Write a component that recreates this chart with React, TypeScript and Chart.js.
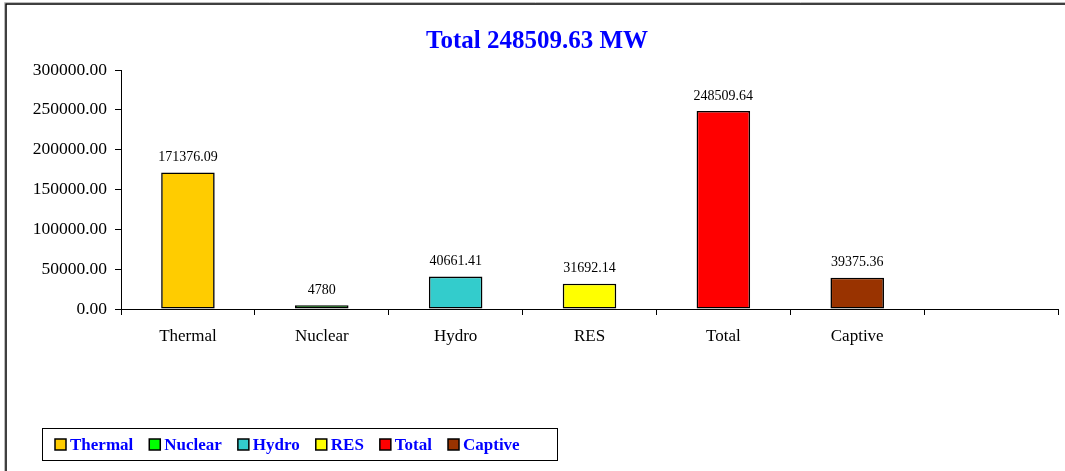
import React, { useEffect, useRef } from 'react';
import { Chart, registerables } from 'chart.js';

Chart.register(...registerables);

const categories = ['Thermal', 'Nuclear', 'Hydro', 'RES', 'Total', 'Captive', ''];
const values: (number | null)[] = [171376.09, 4780, 40661.41, 31692.14, 248509.64, 39375.36, null];
const valueLabels = ['171376.09', '4780', '40661.41', '31692.14', '248509.64', '39375.36', ''];
const barColors = ['#FFCC00', '#00FF00', '#33CCCC', '#FFFF00', '#FF0000', '#993300', '#FFFFFF'];
const legendLabels = ['Thermal', 'Nuclear', 'Hydro', 'RES', 'Total', 'Captive'];
const titleText = 'Total 248509.63 MW';
const yMin = 0;
const yMax = 300000;
const yStep = 50000;

const SERIF = "'Liberation Serif', 'Times New Roman', serif";

const framePlugin = {
  id: 'frame',
  beforeDraw(chart: any) {
    const ctx = chart.ctx;
    ctx.save();
    ctx.fillStyle = '#FFFFFF';
    ctx.fillRect(0, 0, chart.width, chart.height);
    ctx.strokeStyle = '#BBBBBB';
    ctx.lineWidth = 1;
    ctx.beginPath();
    ctx.moveTo(4.5, chart.height + 5);
    ctx.lineTo(4.5, 2.5);
    ctx.lineTo(chart.width + 5, 2.5);
    ctx.stroke();
    ctx.strokeStyle = '#000000';
    ctx.lineWidth = 1.5;
    ctx.beginPath();
    ctx.moveTo(6, chart.height + 5);
    ctx.lineTo(6, 4);
    ctx.lineTo(chart.width + 5, 4);
    ctx.stroke();
    ctx.restore();
  },
};

const titlePlugin = {
  id: 'customTitle',
  afterDraw(chart: any) {
    const ctx = chart.ctx;
    ctx.save();
    ctx.font = `bold 25px ${SERIF}`;
    ctx.fillStyle = '#0000FF';
    ctx.textAlign = 'center';
    ctx.textBaseline = 'middle';
    ctx.fillText(titleText, 537, 42);
    ctx.restore();
  },
};

const dataLabelPlugin = {
  id: 'dataLabels',
  afterDatasetsDraw(chart: any) {
    const ctx = chart.ctx;
    const meta = chart.getDatasetMeta(0);
    ctx.save();
    ctx.font = `14px ${SERIF}`;
    ctx.fillStyle = '#000000';
    ctx.textAlign = 'center';
    ctx.textBaseline = 'middle';
    meta.data.forEach((bar: any, i: number) => {
      if (values[i] == null) return;
      ctx.fillText(valueLabels[i], bar.x, bar.y - 15);
    });
    ctx.restore();
  },
};

const legendPlugin = {
  id: 'customLegend',
  afterDraw(chart: any) {
    const ctx = chart.ctx;
    ctx.save();
    ctx.strokeStyle = '#000000';
    ctx.lineWidth = 1;
    ctx.strokeRect(42.5, 428.5, 515, 32);
    ctx.font = `bold 17px ${SERIF}`;
    ctx.textBaseline = 'middle';
    let x = 55;
    const cy = 445;
    legendLabels.forEach((label, i) => {
      ctx.fillStyle = barColors[i];
      ctx.fillRect(x, cy - 6, 11, 11);
      ctx.strokeStyle = '#000000';
      ctx.lineWidth = 1.5;
      ctx.strokeRect(x, cy - 6, 11, 11);
      ctx.fillStyle = '#0000FF';
      ctx.fillText(label, x + 15, cy + 1);
      x += 15 + ctx.measureText(label).width + 16;
    });
    ctx.restore();
  },
};

export default function App() {
  const canvasRef = useRef<HTMLCanvasElement | null>(null);

  useEffect(() => {
    if (!canvasRef.current) return;
    const chart = new Chart(canvasRef.current, {
      type: 'bar',
      data: {
        labels: categories,
        datasets: [
          {
            data: values as any,
            backgroundColor: barColors,
            borderColor: '#000000',
            borderWidth: 1.6,
            borderSkipped: false,
            barPercentage: 0.4,
            categoryPercentage: 1,
          },
        ],
      },
      options: {
        responsive: false,
        animation: false,
        devicePixelRatio: 1,
        layout: { padding: { left: 0, right: 7, top: 70, bottom: 0 } },
        plugins: {
          legend: { display: false },
          title: { display: false },
          tooltip: { enabled: false },
        },
        scales: {
          x: {
            offset: true,
            border: { color: '#000000', width: 1 },
            grid: {
              display: true,
              drawOnChartArea: false,
              drawTicks: true,
              tickLength: 6,
              color: '#000000',
              offset: true,
            },
            ticks: {
              color: '#000000',
              font: { family: SERIF, size: 17 },
              padding: 11,
              maxRotation: 0,
              autoSkip: false,
            },
            afterFit(scale: any) {
              scale.height = 162;
            },
          },
          y: {
            min: yMin,
            max: yMax,
            border: { color: '#000000', width: 1 },
            grid: {
              display: true,
              drawOnChartArea: false,
              drawTicks: true,
              tickLength: 6,
              color: '#000000',
            },
            ticks: {
              stepSize: yStep,
              color: '#000000',
              font: { family: SERIF, size: 17.5 },
              padding: 8,
              callback: (v: any) => Number(v).toFixed(2),
            },
            afterFit(scale: any) {
              scale.width = 121;
            },
          },
        },
      },
      plugins: [framePlugin, titlePlugin, dataLabelPlugin, legendPlugin],
    });
    return () => chart.destroy();
  }, []);

  return (
    <div style={{ position: 'fixed', left: 0, top: 0, width: 1065, height: 471, background: '#fff' }}>
      <canvas ref={canvasRef} width={1065} height={471} style={{ display: 'block' }} />
    </div>
  );
}
